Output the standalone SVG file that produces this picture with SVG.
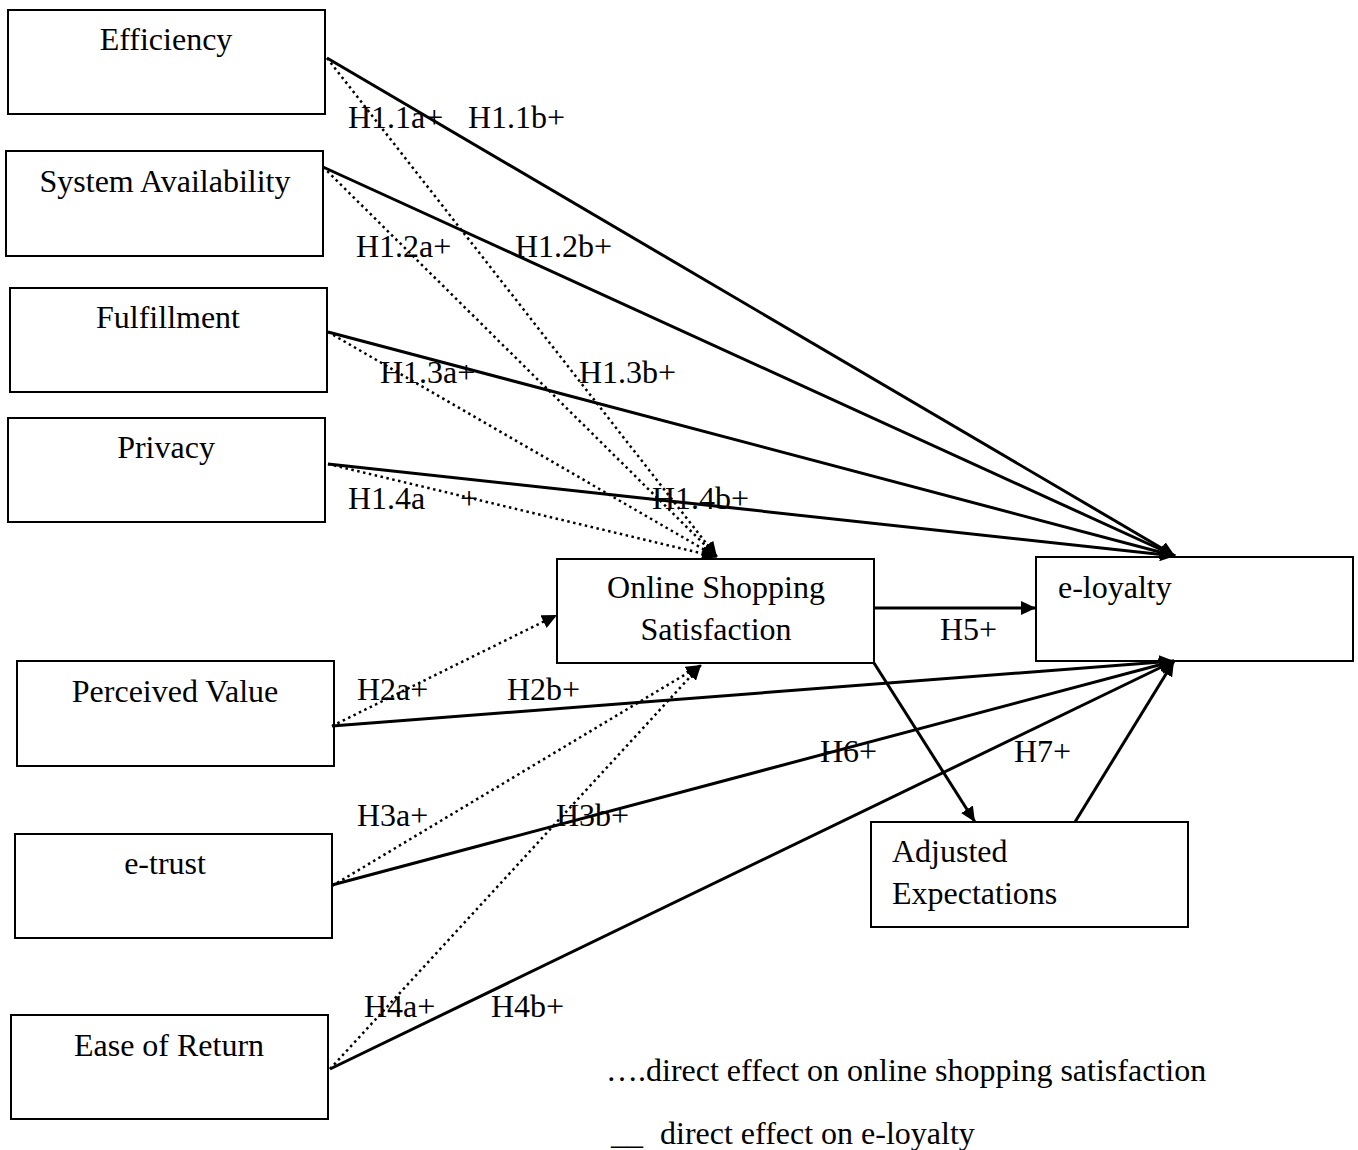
<svg xmlns="http://www.w3.org/2000/svg" width="1358" height="1150" viewBox="0 0 1358 1150">
<defs>
<marker id="arr" markerUnits="userSpaceOnUse" markerWidth="16" markerHeight="14" refX="15" refY="7" orient="auto"><path d="M0,0 L15,7 L0,14 z" fill="#000"/></marker>
</defs>
<style>
.box{fill:#fff;stroke:#000;stroke-width:2}
text{font-family:"Liberation Serif","Times New Roman",serif;font-size:32px;fill:#000}
.c{text-anchor:middle}
.s{fill:none;stroke:#000;stroke-width:3}
.d{fill:none;stroke:#000;stroke-width:2.5;stroke-dasharray:2.5 3.5}
</style>
<rect width="1358" height="1150" fill="#fff"/>
<g id="n-eff"><rect class="box" x="8" y="10" width="317" height="104"/><text class="c" x="166" y="50">Efficiency</text></g>
<g id="n-sys"><rect class="box" x="6" y="151" width="317" height="105"/><text class="c" x="165" y="192">System Availability</text></g>
<g id="n-ful"><rect class="box" x="10" y="288" width="317" height="104"/><text class="c" x="168" y="328">Fulfillment</text></g>
<g id="n-pri"><rect class="box" x="8" y="418" width="317" height="104"/><text class="c" x="166" y="458">Privacy</text></g>
<g id="n-oss"><rect class="box" x="557" y="559" width="317" height="104"/><text class="c" x="716" y="598">Online Shopping</text><text class="c" x="716" y="640">Satisfaction</text></g>
<g id="n-loy"><rect class="box" x="1036" y="557" width="317" height="104"/><text x="1058" y="598">e-loyalty</text></g>
<g id="n-pv"><rect class="box" x="17" y="661" width="317" height="105"/><text class="c" x="175" y="702">Perceived Value</text></g>
<g id="n-tru"><rect class="box" x="15" y="834" width="317" height="104"/><text class="c" x="165" y="874">e-trust</text></g>
<g id="n-ret"><rect class="box" x="11" y="1015" width="317" height="104"/><text class="c" x="169" y="1056">Ease of Return</text></g>
<g id="n-adj"><rect class="box" x="871" y="822" width="317" height="105"/><text x="892" y="862">Adjusted</text><text x="892" y="904">Expectations</text></g>
<g id="connectors">
<line class="s" x1="327" y1="58" x2="1175" y2="556" marker-end="url(#arr)"/>
<line class="s" x1="323" y1="167" x2="1175" y2="556" marker-end="url(#arr)"/>
<line class="s" x1="328" y1="332" x2="1175" y2="556" marker-end="url(#arr)"/>
<line class="s" x1="328" y1="464" x2="1175" y2="556" marker-end="url(#arr)"/>
<line class="d" x1="327" y1="58" x2="717" y2="557" marker-end="url(#arr)"/>
<line class="d" x1="323" y1="167" x2="717" y2="557" marker-end="url(#arr)"/>
<line class="d" x1="328" y1="332" x2="717" y2="557" marker-end="url(#arr)"/>
<line class="d" x1="328" y1="464" x2="717" y2="557" marker-end="url(#arr)"/>
<line class="s" x1="874" y1="608" x2="1036" y2="608" marker-end="url(#arr)"/>
<line class="s" x1="874" y1="663" x2="975" y2="822" marker-end="url(#arr)"/>
<line class="s" x1="1075" y1="822" x2="1174" y2="661" marker-end="url(#arr)"/>
<line class="s" x1="332" y1="726" x2="1174" y2="661" marker-end="url(#arr)"/>
<line class="s" x1="332" y1="885" x2="1174" y2="661" marker-end="url(#arr)"/>
<line class="s" x1="330" y1="1069" x2="1174" y2="661" marker-end="url(#arr)"/>
<line class="d" x1="332" y1="726" x2="557" y2="615" marker-end="url(#arr)"/>
<line class="d" x1="332" y1="886" x2="701" y2="665" marker-end="url(#arr)"/>
<line class="d" x1="330" y1="1069" x2="701" y2="665" marker-end="url(#arr)"/>
</g>
<g id="labels">
<text x="348" y="128">H1.1a+</text><text x="468" y="128">H1.1b+</text>
<text x="356" y="257">H1.2a+</text><text x="515" y="257">H1.2b+</text>
<text x="380" y="383">H1.3a+</text><text x="579" y="383">H1.3b+</text>
<text x="348" y="509">H1.4a</text><text x="460" y="509">+</text><text x="652" y="509">H1.4b+</text>
<text x="940" y="640">H5+</text>
<text x="357" y="700">H2a+</text><text x="507" y="700">H2b+</text>
<text x="820" y="762">H6+</text><text x="1014" y="762">H7+</text>
<text x="357" y="826">H3a+</text><text x="556" y="826">H3b+</text>
<text x="364" y="1017">H4a+</text><text x="491" y="1017">H4b+</text>
<text x="606" y="1081">….direct effect on online shopping satisfaction</text>
<text x="611" y="1144">__<tspan x="660">direct effect on e-loyalty</tspan></text>
</g>
</svg>
